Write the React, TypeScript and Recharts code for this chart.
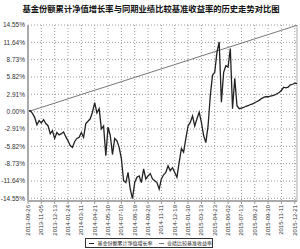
import React from "react";
import {
  LineChart,
  Line,
  XAxis,
  YAxis,
  CartesianGrid,
  ReferenceLine,
} from "recharts";

const title = "基金份额累计净值增长率与同期业绩比较基准收益率的历史走势对比图";
const fundName = "基金份额累计净值增长率";
const benchName = "业绩比较基准收益率";

const dateLabels = [
  "2013-09-26", "2013-11-05", "2013-12-13", "2014-01-24", "2014-03-11",
  "2014-04-21", "2014-05-30", "2014-07-10", "2014-08-19", "2014-09-26",
  "2014-11-11", "2014-12-19", "2015-01-30", "2015-03-13", "2015-04-23",
  "2015-06-02", "2015-07-13", "2015-08-21", "2015-09-30", "2015-11-11",
  "2015-12-21",
];

const yTicks = [14.55, 11.64, 8.73, 5.82, 2.91, 0, -2.91, -5.82, -8.73, -11.64, -14.55];

// one value per trading step, 6 steps between date labels
const fundValues = [
  0.0, 0.17, -0.3, -0.95, -2.2, -1.5, -1.9, -1.35, -2.0, -2.35,
  -3.7, -3.2, -4.5, -3.5, -3.9, -3.7, -3.4, -4.2, -4.9, -5.7,
  -6.0, -5.0, -4.5, -4.3, -3.5, -4.3, -2.0, -1.6, -1.2, -0.1,
  1.5, -0.2, 0.5, -2.9, -2.4, -7.4, -2.6, -4.0, -7.2, -4.5,
  -4.9, -6.0, -7.9, -11.6, -11.9, -10.2, -13.0, -14.6, -11.9, -11.0,
  -10.8, -11.9, -9.6, -11.3, -10.8, -10.4, -11.3, -11.6, -11.9, -13.0,
  -11.3, -10.6, -10.2, -9.1, -9.9, -9.4, -10.2, -11.0, -8.5, -6.2,
  -6.8, -4.5, -2.4, -1.8, -0.7, -2.4, -1.2, -0.1, -1.8, -4.0,
  -5.2, -2.4, 2.7, 6.1, 6.6, 10.0, 11.7, 1.6, 6.6, 7.7,
  7.5, 10.6, 0.5, 5.6, 1.0, 0.5, 0.6, 0.7, 0.9, 1.0,
  1.2, 1.3, 1.5, 1.7, 1.9, 2.2, 2.4, 2.5, 2.5, 2.6,
  2.7, 2.8, 3.0, 3.2, 3.6, 4.1, 4.0, 4.1, 4.5, 4.6,
  4.8, 4.7,
];

// benchmark at each date label, plus the last day
const benchValues = [
  0.0, 0.71, 1.43, 2.16, 2.88, 3.6, 4.31, 5.03, 5.75, 6.47,
  7.19, 7.9, 8.62, 9.35, 10.07, 10.78, 11.5, 12.22, 12.94, 13.66,
  14.38, 14.5,
];

const STEP = 6;
const last = fundValues.length - 1;

const data = fundValues.map((v, i) => ({
  i,
  fund: v,
  bench:
    i % STEP === 0
      ? benchValues[i / STEP]
      : i === last
      ? benchValues[benchValues.length - 1]
      : null,
}));

const xTicks = dateLabels.map((_, k) => k * STEP);

const DateTick = (props: any) => {
  const { x, y, payload } = props;
  return (
    <text
      x={x + 2}
      y={y}
      transform={`rotate(-90, ${x + 2}, ${y})`}
      textAnchor="end"
      fontSize={6}
      fill="#333"
      fontFamily="Liberation Sans, Arial, sans-serif"
    >
      {dateLabels[payload.value / STEP]}
    </text>
  );
};

export default function App() {
  return (
    <div
      style={{
        position: "absolute",
        left: 0,
        top: 0,
        width: 300,
        height: 249,
        background: "#fff",
        fontFamily: "Liberation Sans, Arial, sans-serif",
      }}
    >
      <div
        style={{
          position: "absolute",
          left: 0,
          top: 3,
          width: 302,
          textAlign: "center",
          fontSize: 8.3,
          fontWeight: "bold",
          fontFamily: "Noto Sans CJK SC",
          color: "#111",
          lineHeight: "11px",
        }}
      >
        {title}
      </div>
      <LineChart
        width={300}
        height={249}
        data={data}
        margin={{ top: 25, right: 3, left: 0, bottom: 8 }}
      >
        <CartesianGrid
          stroke="#999"
          strokeDasharray="1 2"
          horizontalValues={yTicks}
          verticalValues={xTicks}
        />
        <XAxis
          dataKey="i"
          type="number"
          domain={[0, last]}
          ticks={xTicks}
          interval={0}
          height={40}
          tick={<DateTick />}
          tickSize={3}
          tickMargin={1}
          tickLine={{ stroke: "#999" }}
          axisLine={{ stroke: "#aaa", strokeWidth: 2 }}
        />
        <YAxis
          type="number"
          domain={[-15, 14.55]}
          ticks={yTicks}
          interval={0}
          width={28}
          tickLine={false}
          tickSize={2}
          tickMargin={1}
          axisLine={{ stroke: "#aaa", strokeWidth: 2 }}
          tick={{ fontSize: 6.5, fill: "#333" }}
          tickFormatter={(v: number) => `${v.toFixed(2)}%`}
        />
        <ReferenceLine x={last} stroke="#aaa" />
        <Line
          type="linear"
          dataKey="bench"
          stroke="#777"
          strokeWidth={1}
          dot={false}
          connectNulls
          isAnimationActive={false}
        />
        <Line
          type="linear"
          dataKey="fund"
          stroke="#222"
          strokeWidth={1.3}
          dot={false}
          isAnimationActive={false}
        />
      </LineChart>
      <div
        style={{
          position: "absolute",
          left: 85,
          top: 238,
          width: 128,
          height: 10,
          border: "1px solid #333",
          boxSizing: "border-box",
          display: "flex",
          alignItems: "center",
          gap: 3,
          paddingLeft: 3,
          fontSize: 5,
          lineHeight: "8px",
          fontFamily: "Noto Sans CJK SC",
          color: "#222",
          whiteSpace: "nowrap",
          background: "#fff",
        }}
      >
        <span style={{ display: "inline-block", width: 8, borderTop: "1px solid #222" }} />
        <span>{fundName}</span>
        <span style={{ display: "inline-block", width: 8, borderTop: "1px solid #777", marginLeft: 3 }} />
        <span>{benchName}</span>
      </div>
    </div>
  );
}
